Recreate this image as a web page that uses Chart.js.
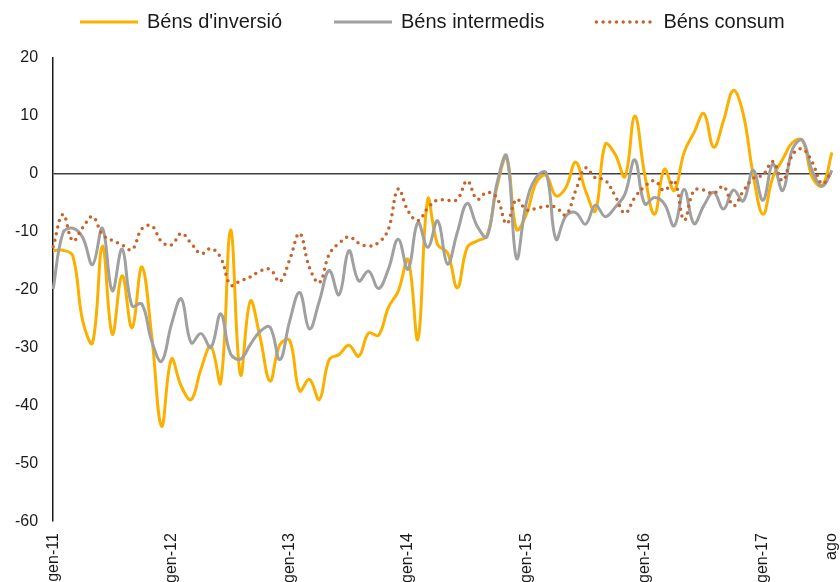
<!DOCTYPE html>
<html>
<head>
<meta charset="utf-8">
<script src="https://cdn.jsdelivr.net/npm/chart.js@4.4.0/dist/chart.umd.min.js"></script>
<style>
html, body { margin: 0; padding: 0; background: #fff; overflow: hidden; }
#wrap { width: 840px; height: 582px; }
</style>
</head>
<body>
<div id="wrap"><canvas id="myChart"></canvas></div>
<script>
// mesos gen-11 ... ago-17
var labels = [
  'gen-11','feb-11','mar-11','abr-11','mai-11','jun-11','jul-11','ago-11','set-11','oct-11','nov-11','des-11',
  'gen-12','feb-12','mar-12','abr-12','mai-12','jun-12','jul-12','ago-12','set-12','oct-12','nov-12','des-12',
  'gen-13','feb-13','mar-13','abr-13','mai-13','jun-13','jul-13','ago-13','set-13','oct-13','nov-13','des-13',
  'gen-14','feb-14','mar-14','abr-14','mai-14','jun-14','jul-14','ago-14','set-14','oct-14','nov-14','des-14',
  'gen-15','feb-15','mar-15','abr-15','mai-15','jun-15','jul-15','ago-15','set-15','oct-15','nov-15','des-15',
  'gen-16','feb-16','mar-16','abr-16','mai-16','jun-16','jul-16','ago-16','set-16','oct-16','nov-16','des-16',
  'gen-17','feb-17','mar-17','abr-17','mai-17','jun-17','jul-17','ago-17'
];

var inversio = [
  -13.3, -13.2, -14.2, -25.4, -29.2, -12.5, -27.7, -17.6, -26.6, -16.1, -28.0, -43.6,
  -32.0, -36.7, -39.0, -33.7, -29.8, -36.1, -9.7, -34.7, -22.0, -28.3, -35.8, -29.5,
  -28.8, -37.5, -35.5, -39.0, -32.1, -31.2, -29.6, -31.5, -27.5, -27.9, -23.1, -20.3,
  -14.8, -28.6, -4.4, -12.2, -13.6, -19.7, -12.7, -11.6, -10.7, -2.4, 2.8, -9.6,
  -7.0, -1.5, -0.3, -3.8, -2.4, 2.0, -2.9, -6.4, 5.1, 3.4, -0.5, 10.0,
  -0.1, -7.0, 0.8, -2.9, 3.7, 7.1, 10.4, 4.6, 9.2, 14.4, 10.3, -0.1,
  -7.0, -0.6, 2.5, 5.4, 5.8, -0.6, -2.1, 3.7
];

var intermedis = [
  -19.9, -10.2, -9.4, -11.0, -15.7, -9.4, -20.2, -13.0, -22.8, -22.5, -28.9, -32.4,
  -26.0, -21.6, -29.2, -27.6, -30.0, -24.2, -31.1, -32.0, -29.5, -27.2, -26.5, -32.1,
  -25.4, -20.5, -26.8, -22.0, -16.7, -20.9, -13.3, -18.5, -16.8, -19.8, -16.5, -11.3,
  -16.5, -8.4, -12.7, -8.1, -15.6, -10.1, -5.1, -9.0, -10.9, -1.8, 3.1, -14.6,
  -5.0, -0.6, 0.2, -11.3, -7.3, -6.7, -8.7, -5.4, -7.4, -5.8, -3.5, 2.4,
  -5.2, -4.1, -5.2, -9.0, -2.7, -8.6, -5.5, -3.2, -6.1, -2.8, -4.7, 0.6,
  -4.6, 1.7, -2.9, 4.3, 5.8, 0.5, -2.1, 0.6
];

var consum = [
  -12.6, -7.0, -11.6, -9.3, -7.4, -10.5, -11.5, -12.3, -13.1, -9.5, -9.0, -11.7,
  -12.3, -10.3, -12.0, -13.8, -12.9, -14.5, -19.2, -18.5, -17.8, -16.8, -16.5, -18.6,
  -14.8, -10.3, -16.2, -18.8, -13.9, -12.0, -10.9, -12.0, -12.5, -11.9, -9.6, -2.6,
  -6.4, -8.1, -5.9, -4.5, -4.6, -4.4, -1.2, -4.4, -3.2, -4.1, -8.6, -4.4,
  -6.2, -6.0, -5.6, -5.8, -7.1, -2.9, 1.0, -0.7, -1.1, -3.8, -6.8, -4.1,
  -2.2, -1.2, -2.9, -1.2, -8.0, -2.9, -2.8, -3.4, -2.2, -5.5, -3.0, -0.8,
  -0.2, 2.1, -1.2, 3.3, 4.3, 2.0, -1.7, 0.5
];

var fontFamily = "'Liberation Sans', Arial, sans-serif";

// llegenda amb mostra de línia llarga, com l'original
var legendLine = {
  id: 'legendLine',
  afterDraw: function(chart) {
    var ctx = chart.ctx;
    var x = 80, y = 22, lineLen = 58, gap = 9, itemGap = 52;
    ctx.save();
    ctx.font = '20px ' + fontFamily;
    ctx.textBaseline = 'middle';
    ctx.textAlign = 'left';
    chart.data.datasets.forEach(function(ds) {
      ctx.beginPath();
      ctx.strokeStyle = ds.borderColor;
      ctx.lineWidth = ds.borderWidth;
      ctx.lineCap = ds.borderCapStyle || 'butt';
      ctx.setLineDash(ds.borderDash || []);
      ctx.moveTo(x, y);
      ctx.lineTo(x + lineLen, y);
      ctx.stroke();
      ctx.setLineDash([]);
      ctx.fillStyle = '#1a1a1a';
      ctx.fillText(ds.label, x + lineLen + gap, y);
      x += lineLen + gap + ctx.measureText(ds.label).width + itemGap;
    });
    ctx.restore();
  }
};

var ctx = document.getElementById('myChart').getContext('2d');
var chart = new Chart(ctx, {
  type: 'line',
  data: {
    labels: labels,
    datasets: [{
      label: "Béns d'inversió",
      data: inversio,
      borderColor: '#FBB000',
      backgroundColor: '#FBB000',
      borderWidth: 3,
      tension: 0.4,
      pointRadius: 0,
      order: 3
    },
    {
      label: 'Béns intermedis',
      data: intermedis,
      borderColor: '#A0A0A0',
      backgroundColor: '#A0A0A0',
      borderWidth: 3,
      tension: 0.4,
      pointRadius: 0,
      order: 2
    },
    {
      label: 'Béns consum',
      data: consum,
      borderColor: '#C8642A',
      backgroundColor: '#C8642A',
      borderWidth: 3.5,
      borderDash: [0, 6.7],
      borderCapStyle: 'round',
      tension: 0.4,
      pointRadius: 0,
      order: 1
    }]
  },
  options: {
    responsive: true,
    maintainAspectRatio: false,
    animation: false,
    layout: { padding: { top: 58, left: 0, right: 8, bottom: -13 } },
    plugins: {
      legend: { display: false },
      tooltip: { enabled: false }
    },
    scales: {
      x: {
        offset: false,
        grid: { display: false, drawTicks: false },
        border: { display: false },
        afterFit: function(scale) {
          // sense marge extra per a l'última etiqueta girada
          scale.paddingRight = 0;
        },
        ticks: {
          autoSkip: false,
          maxRotation: 90,
          minRotation: 90,
          padding: 12,
          color: '#1a1a1a',
          font: { family: fontFamily, size: 16 },
          callback: function(value, index) {
            if (index === labels.length - 1) return 'ago';
            return index % 12 === 0 ? labels[index] : '';
          }
        }
      },
      y: {
        min: -60,
        max: 20,
        ticks: {
          stepSize: 10,
          padding: 15,
          color: '#1a1a1a',
          font: { family: fontFamily, size: 16 }
        },
        grid: {
          drawTicks: false,
          lineWidth: 1.5,
          color: function(c) { return c.tick && c.tick.value === 0 ? '#404040' : 'rgba(0,0,0,0)'; }
        },
        border: { display: true, color: '#1a1a1a', width: 1.5 }
      }
    }
  },
  plugins: [legendLine]
});
</script>
</body>
</html>
